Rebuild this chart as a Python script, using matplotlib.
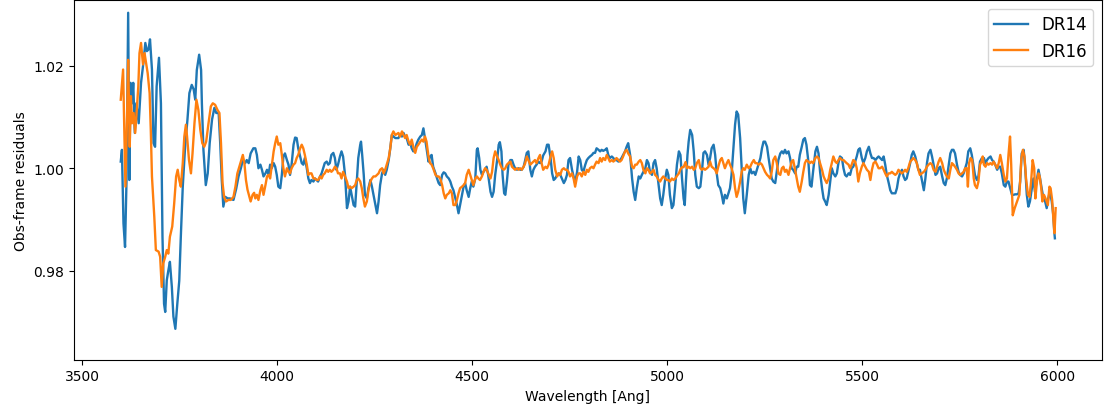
from matplotlib import pyplot as plt

# DR14 residuals (wavelength in Ang, obs-frame residual)
wave_dr14 = [3599, 3602, 3606, 3610, 3614, 3618, 3621, 3624, 3628, 3631, 3635, 3639, 3645, 3651, 3657, 3662,
             3666, 3670, 3674, 3679, 3683, 3687, 3691, 3697, 3702, 3706, 3710, 3713, 3717, 3721, 3725, 3730,
             3734, 3739, 3744, 3749, 3753, 3758, 3764, 3770, 3775, 3781, 3786, 3790, 3794, 3800, 3805, 3807,
             3811, 3817, 3822, 3827, 3833, 3839, 3844, 3850, 3854, 3858, 3862, 3867, 3873, 3879, 3888, 3895,
             3901, 3907, 3912, 3918, 3922, 3927, 3932, 3939, 3944, 3948, 3952, 3957, 3961, 3965, 3970, 3974,
             3978, 3982, 3986, 3991, 3995, 3999, 4003, 4008, 4012, 4016, 4020, 4025, 4029, 4033, 4037, 4042,
             4046, 4050, 4054, 4059, 4063, 4067, 4071, 4076, 4080, 4084, 4088, 4093, 4097, 4101, 4105, 4110,
             4114, 4118, 4122, 4127, 4131, 4135, 4139, 4144, 4148, 4152, 4156, 4161, 4165, 4169, 4174, 4179,
             4183, 4187, 4191, 4196, 4200, 4204, 4208, 4213, 4215, 4218, 4222, 4225, 4230, 4234, 4239, 4243,
             4247, 4252, 4256, 4260, 4264, 4269, 4273, 4277, 4281, 4286, 4290, 4294, 4298, 4303, 4311, 4315,
             4320, 4324, 4328, 4332, 4337, 4341, 4345, 4349, 4354, 4358, 4362, 4367, 4371, 4375, 4379, 4383,
             4388, 4392, 4396, 4400, 4406, 4410, 4414, 4418, 4423, 4427, 4431, 4435, 4440, 4444, 4448, 4452,
             4457, 4461, 4465, 4469, 4474, 4478, 4482, 4486, 4491, 4495, 4499, 4503, 4508, 4512, 4514, 4518,
             4521, 4525, 4529, 4533, 4537, 4541, 4547, 4551, 4555, 4559, 4564, 4568, 4571, 4575, 4578, 4582,
             4585, 4589, 4593, 4598, 4602, 4606, 4610, 4615, 4619, 4623, 4627, 4632, 4636, 4640, 4644, 4649,
             4653, 4657, 4661, 4665, 4670, 4674, 4678, 4682, 4688, 4692, 4696, 4701, 4705, 4709, 4713, 4718,
             4722, 4726, 4730, 4735, 4739, 4743, 4747, 4751, 4756, 4760, 4764, 4769, 4773, 4777, 4781, 4785,
             4790, 4794, 4798, 4802, 4807, 4811, 4815, 4819, 4824, 4828, 4832, 4836, 4841, 4845, 4849, 4853,
             4858, 4862, 4866, 4870, 4875, 4879, 4883, 4887, 4892, 4896, 4900, 4905, 4910, 4914, 4918, 4922,
             4927, 4931, 4935, 4939, 4944, 4948, 4952, 4956, 4961, 4965, 4969, 4973, 4978, 4982, 4986, 4990,
             4995, 4999, 5003, 5007, 5012, 5016, 5020, 5025, 5030, 5034, 5038, 5042, 5045, 5048, 5052, 5055,
             5059, 5064, 5068, 5072, 5076, 5081, 5085, 5089, 5093, 5097, 5102, 5106, 5110, 5114, 5119, 5123,
             5127, 5131, 5136, 5140, 5144, 5148, 5153, 5157, 5161, 5165, 5170, 5174, 5178, 5182, 5187, 5191,
             5195, 5199, 5204, 5209, 5213, 5217, 5222, 5226, 5230, 5234, 5239, 5243, 5247, 5251, 5256, 5260,
             5264, 5268, 5272, 5277, 5281, 5285, 5290, 5294, 5298, 5302, 5306, 5311, 5315, 5319, 5323, 5328,
             5332, 5336, 5340, 5345, 5349, 5353, 5357, 5362, 5366, 5370, 5374, 5380, 5384, 5388, 5392, 5397,
             5401, 5405, 5409, 5414, 5418, 5422, 5426, 5431, 5435, 5439, 5443, 5448, 5452, 5456, 5460, 5465,
             5469, 5473, 5477, 5482, 5486, 5490, 5494, 5499, 5503, 5508, 5512, 5517, 5521, 5525, 5529, 5534,
             5538, 5542, 5546, 5551, 5555, 5559, 5563, 5568, 5572, 5576, 5580, 5585, 5589, 5593, 5597, 5602,
             5606, 5610, 5614, 5618, 5623, 5627, 5631, 5636, 5640, 5644, 5648, 5653, 5658, 5662, 5666, 5670,
             5675, 5679, 5683, 5688, 5692, 5696, 5700, 5705, 5709, 5713, 5717, 5722, 5726, 5730, 5734, 5738,
             5743, 5747, 5751, 5756, 5760, 5764, 5768, 5772, 5777, 5781, 5785, 5789, 5794, 5798, 5802, 5807,
             5812, 5816, 5820, 5824, 5829, 5833, 5837, 5841, 5846, 5850, 5854, 5858, 5863, 5867, 5871, 5875,
             5880, 5884, 5888, 5892, 5897, 5901, 5905, 5909, 5914, 5918, 5922, 5926, 5930, 5935, 5939, 5943,
             5947, 5952, 5956, 5960, 5964, 5969, 5973, 5977, 5981, 5986, 5990, 5992, 5994]
res_dr14 = [1.0013, 1.0036, 0.9892, 0.9846, 0.9984, 1.0304, 0.9977, 1.0167, 1.0127, 1.0167, 1.0069, 1.0127,
            1.0088, 1.0167, 1.0206, 1.0245, 1.0229, 1.0232, 1.0252, 1.0193, 1.0049, 1.0042, 1.0160, 1.0216,
            1.0127, 0.9866, 0.9735, 0.9719, 0.9781, 0.9800, 0.9817, 0.9768, 0.9710, 0.9686, 0.9735, 0.9780,
            0.9866, 0.9964, 1.0042, 1.0095, 1.0147, 1.0163, 1.0154, 1.0134, 1.0192, 1.0222, 1.0192, 1.0127,
            1.0036, 0.9967, 0.9990, 1.0049, 1.0095, 1.0118, 1.0108, 1.0108, 1.0049, 0.9977, 0.9925, 0.9944,
            0.9941, 0.9941, 0.9938, 0.9960, 0.9984, 1.0000, 1.0016, 1.0010, 1.0016, 1.0010, 1.0029, 1.0039,
            1.0039, 1.0026, 1.0000, 1.0007, 0.9997, 0.9984, 0.9990, 0.9997, 0.9987, 1.0007, 1.0000, 1.0010,
            1.0003, 0.9987, 0.9964, 0.9961, 0.9987, 1.0023, 1.0029, 1.0016, 1.0007, 0.9987, 1.0007, 1.0046,
            1.0060, 1.0059, 1.0039, 1.0023, 1.0010, 1.0007, 1.0020, 1.0000, 0.9980, 0.9971, 0.9977, 0.9974,
            0.9980, 0.9977, 0.9974, 0.9984, 0.9990, 1.0000, 1.0010, 1.0013, 1.0007, 1.0010, 1.0026, 1.0030,
            1.0020, 0.9997, 1.0007, 1.0023, 1.0033, 1.0023, 0.9987, 0.9922, 0.9935, 0.9964, 0.9948, 0.9928,
            0.9925, 0.9974, 1.0020, 1.0046, 1.0052, 1.0026, 0.9987, 0.9948, 0.9941, 0.9961, 0.9977, 0.9964,
            0.9948, 0.9928, 0.9912, 0.9935, 0.9967, 0.9990, 0.9997, 0.9987, 0.9997, 1.0016, 1.0039, 1.0065,
            1.0062, 1.0059, 1.0059, 1.0065, 1.0062, 1.0069, 1.0062, 1.0059, 1.0046, 1.0050, 1.0039, 1.0033,
            1.0039, 1.0049, 1.0056, 1.0062, 1.0065, 1.0078, 1.0059, 1.0039, 1.0013, 1.0023, 1.0026, 1.0003,
            0.9990, 0.9980, 0.9971, 0.9967, 0.9987, 0.9992, 0.9990, 0.9984, 0.9980, 0.9974, 0.9964, 0.9957,
            0.9941, 0.9928, 0.9912, 0.9928, 0.9948, 0.9964, 0.9971, 0.9957, 0.9944, 0.9961, 0.9974, 0.9964,
            0.9980, 1.0036, 1.0039, 1.0020, 0.9997, 0.9987, 0.9993, 0.9997, 1.0003, 0.9987, 0.9954, 0.9944,
            0.9954, 0.9987, 1.0016, 1.0046, 1.0051, 1.0033, 0.9987, 0.9951, 0.9948, 0.9974, 1.0007, 1.0016,
            1.0016, 1.0007, 1.0000, 0.9997, 1.0000, 0.9997, 0.9997, 1.0003, 1.0016, 1.0030, 1.0033, 0.9997,
            0.9984, 0.9997, 1.0003, 1.0007, 1.0013, 1.0010, 1.0013, 1.0025, 1.0033, 1.0046, 1.0046, 1.0020,
            0.9990, 0.9977, 0.9980, 0.9987, 0.9990, 0.9987, 0.9980, 0.9971, 0.9977, 0.9987, 1.0016, 1.0020,
            0.9997, 0.9984, 0.9971, 0.9993, 1.0023, 1.0016, 0.9997, 0.9993, 1.0007, 1.0016, 1.0020, 1.0023,
            1.0026, 1.0030, 1.0030, 1.0039, 1.0036, 1.0033, 1.0036, 1.0034, 1.0036, 1.0039, 1.0026, 1.0020,
            1.0023, 1.0020, 1.0016, 1.0016, 1.0013, 1.0016, 1.0020, 1.0026, 1.0033, 1.0042, 1.0049, 1.0026,
            0.9980, 0.9954, 0.9938, 0.9961, 0.9984, 0.9980, 0.9987, 0.9993, 1.0000, 1.0016, 1.0010, 0.9993,
            0.9987, 1.0010, 1.0016, 1.0000, 0.9967, 0.9941, 0.9928, 0.9948, 0.9980, 0.9997, 0.9987, 0.9948,
            0.9922, 0.9928, 0.9961, 1.0007, 1.0033, 1.0026, 0.9980, 0.9941, 0.9928, 0.9974, 1.0026, 1.0052,
            1.0075, 1.0065, 1.0033, 0.9987, 0.9964, 0.9961, 0.9964, 0.9993, 1.0030, 1.0033, 1.0026, 1.0007,
            1.0020, 1.0039, 1.0046, 1.0026, 0.9990, 0.9967, 0.9961, 0.9948, 0.9931, 0.9948, 0.9941, 0.9951,
            0.9961, 0.9987, 1.0042, 1.0085, 1.0111, 1.0105, 1.0059, 1.0000, 0.9941, 0.9912, 0.9948, 0.9987,
            1.0000, 0.9990, 0.9993, 0.9987, 0.9997, 1.0007, 1.0020, 1.0039, 1.0052, 1.0052, 1.0042, 1.0020,
            1.0000, 0.9980, 0.9974, 0.9971, 0.9993, 1.0016, 1.0029, 1.0033, 1.0029, 1.0036, 1.0029, 1.0033,
            1.0020, 1.0000, 0.9997, 0.9990, 1.0003, 1.0003, 1.0026, 1.0042, 1.0056, 1.0059, 1.0046, 1.0013,
            0.9967, 0.9964, 0.9993, 1.0033, 1.0042, 1.0029, 0.9993, 0.9961, 0.9941, 0.9935, 0.9928, 0.9948,
            0.9974, 1.0000, 0.9990, 0.9984, 0.9990, 1.0010, 1.0023, 1.0020, 1.0000, 0.9987, 0.9984, 0.9990,
            0.9987, 1.0000, 1.0003, 1.0013, 1.0023, 1.0036, 1.0039, 1.0020, 1.0010, 1.0020, 1.0033, 1.0042,
            1.0029, 1.0020, 1.0020, 1.0016, 1.0020, 1.0023, 1.0020, 1.0016, 1.0023, 1.0007, 0.9987, 0.9971,
            0.9957, 0.9951, 0.9951, 0.9951, 0.9961, 0.9980, 0.9990, 0.9997, 0.9984, 0.9977, 0.9980, 0.9993,
            1.0010, 1.0026, 1.0033, 1.0023, 1.0010, 0.9997, 0.9997, 0.9977, 0.9957, 0.9980, 1.0010, 1.0029,
            1.0036, 1.0023, 1.0007, 0.9987, 0.9990, 1.0000, 1.0003, 0.9984, 0.9971, 0.9967, 0.9980, 1.0007,
            1.0029, 1.0036, 1.0036, 1.0029, 1.0007, 0.9993, 0.9987, 0.9984, 0.9990, 1.0000, 1.0010, 1.0033,
            1.0039, 1.0026, 1.0007, 0.9987, 0.9977, 0.9984, 1.0013, 1.0020, 1.0020, 1.0010, 1.0016, 1.0020,
            1.0023, 1.0016, 1.0013, 1.0007, 0.9997, 1.0003, 1.0003, 0.9990, 0.9967, 0.9964, 0.9974, 0.9974,
            0.9960, 0.9948, 0.9948, 0.9949, 0.9949, 0.9951, 0.9974, 1.0029, 1.0036, 1.0000, 0.9948, 0.9925,
            0.9935, 0.9961, 0.9980, 0.9954, 0.9974, 0.9997, 0.9980, 0.9961, 0.9944, 0.9935, 0.9922, 0.9941,
            0.9954, 0.9935, 0.9908, 0.9880, 0.9863]

# DR16 residuals
wave_dr16 = [3599, 3605, 3608, 3611, 3615, 3618, 3622, 3625, 3628, 3632, 3636, 3639, 3644, 3647, 3651, 3656,
             3660, 3664, 3668, 3673, 3676, 3679, 3685, 3689, 3696, 3700, 3704, 3708, 3713, 3717, 3721, 3725,
             3731, 3736, 3741, 3745, 3749, 3753, 3758, 3762, 3766, 3769, 3774, 3779, 3783, 3788, 3793, 3798,
             3803, 3808, 3813, 3818, 3824, 3830, 3835, 3841, 3847, 3852, 3856, 3860, 3864, 3869, 3875, 3881,
             3888, 3893, 3898, 3903, 3907, 3912, 3916, 3920, 3924, 3929, 3932, 3937, 3941, 3944, 3948, 3952,
             3957, 3961, 3965, 3970, 3974, 3978, 3982, 3986, 3991, 3995, 3999, 4003, 4008, 4012, 4016, 4020,
             4025, 4029, 4033, 4037, 4042, 4046, 4050, 4054, 4059, 4063, 4067, 4071, 4076, 4080, 4084, 4088,
             4093, 4097, 4101, 4105, 4110, 4114, 4118, 4122, 4127, 4131, 4135, 4139, 4144, 4148, 4152, 4156,
             4161, 4165, 4169, 4174, 4179, 4183, 4187, 4191, 4196, 4200, 4204, 4208, 4213, 4217, 4221, 4225,
             4230, 4234, 4239, 4243, 4247, 4252, 4256, 4260, 4264, 4269, 4273, 4277, 4281, 4286, 4290, 4294,
             4298, 4303, 4311, 4315, 4320, 4324, 4328, 4332, 4337, 4341, 4345, 4349, 4354, 4358, 4362, 4367,
             4371, 4375, 4379, 4383, 4388, 4392, 4396, 4400, 4406, 4410, 4414, 4418, 4423, 4427, 4431, 4435,
             4440, 4444, 4448, 4452, 4457, 4461, 4465, 4469, 4474, 4478, 4482, 4486, 4491, 4495, 4499, 4503,
             4508, 4512, 4516, 4520, 4525, 4529, 4533, 4537, 4541, 4547, 4551, 4555, 4559, 4564, 4568, 4572,
             4576, 4581, 4585, 4589, 4593, 4598, 4602, 4606, 4610, 4615, 4619, 4623, 4627, 4632, 4636, 4640,
             4644, 4649, 4653, 4657, 4661, 4665, 4670, 4674, 4678, 4682, 4688, 4692, 4696, 4701, 4705, 4709,
             4713, 4718, 4722, 4726, 4730, 4735, 4739, 4743, 4747, 4751, 4756, 4760, 4764, 4769, 4773, 4777,
             4781, 4785, 4790, 4794, 4798, 4802, 4807, 4811, 4815, 4819, 4824, 4828, 4832, 4836, 4841, 4845,
             4849, 4853, 4858, 4862, 4866, 4870, 4875, 4879, 4883, 4887, 4892, 4896, 4900, 4905, 4910, 4914,
             4918, 4922, 4927, 4931, 4935, 4939, 4944, 4948, 4952, 4956, 4961, 4965, 4969, 4973, 4978, 4982,
             4986, 4990, 4995, 4999, 5003, 5007, 5012, 5016, 5021, 5025, 5030, 5034, 5038, 5042, 5047, 5051,
             5055, 5059, 5064, 5068, 5072, 5076, 5081, 5085, 5089, 5093, 5097, 5102, 5106, 5110, 5114, 5119,
             5123, 5127, 5131, 5136, 5140, 5144, 5148, 5153, 5157, 5161, 5165, 5170, 5174, 5178, 5182, 5187,
             5191, 5195, 5199, 5204, 5209, 5213, 5217, 5222, 5226, 5230, 5234, 5239, 5243, 5247, 5251, 5256,
             5260, 5264, 5268, 5272, 5277, 5281, 5285, 5290, 5294, 5298, 5302, 5306, 5311, 5315, 5319, 5323,
             5328, 5332, 5336, 5340, 5345, 5349, 5353, 5357, 5362, 5366, 5370, 5374, 5380, 5384, 5388, 5392,
             5397, 5401, 5405, 5409, 5414, 5418, 5422, 5426, 5431, 5435, 5439, 5443, 5448, 5452, 5456, 5460,
             5465, 5469, 5473, 5477, 5482, 5486, 5490, 5494, 5499, 5503, 5508, 5512, 5517, 5521, 5525, 5529,
             5534, 5538, 5542, 5546, 5551, 5555, 5559, 5563, 5568, 5572, 5576, 5580, 5585, 5589, 5593, 5597,
             5602, 5606, 5610, 5614, 5618, 5623, 5627, 5631, 5636, 5640, 5644, 5648, 5653, 5658, 5662, 5666,
             5670, 5675, 5679, 5683, 5688, 5692, 5696, 5700, 5705, 5709, 5713, 5717, 5722, 5726, 5730, 5734,
             5738, 5743, 5747, 5751, 5756, 5760, 5764, 5768, 5771, 5774, 5778, 5782, 5786, 5789, 5794, 5798,
             5802, 5806, 5809, 5812, 5816, 5820, 5824, 5829, 5833, 5837, 5841, 5846, 5850, 5854, 5858, 5863,
             5867, 5871, 5875, 5879, 5882, 5886, 5891, 5897, 5903, 5908, 5912, 5916, 5920, 5925, 5929, 5933,
             5937, 5941, 5944, 5948, 5952, 5955, 5959, 5962, 5966, 5970, 5976, 5980, 5983, 5987, 5990, 5993,
             5996]
res_dr16 = [1.0134, 1.0193, 1.0075, 0.9964, 1.0095, 1.0212, 1.0042, 1.0141, 1.0088, 1.0108, 1.0069, 1.0101,
            1.0160, 1.0225, 1.0245, 1.0203, 1.0225, 1.0206, 1.0186, 1.0147, 1.0075, 0.9984, 0.9905, 0.9840,
            0.9837, 0.9827, 0.9768, 0.9814, 0.9827, 0.9840, 0.9833, 0.9866, 0.9886, 0.9931, 0.9984, 0.9997,
            0.9977, 0.9964, 1.0010, 1.0062, 1.0085, 1.0062, 1.0016, 0.9990, 1.0029, 1.0088, 1.0134, 1.0114,
            1.0075, 1.0049, 1.0042, 1.0052, 1.0088, 1.0121, 1.0127, 1.0124, 1.0114, 1.0108, 1.0049, 0.9971,
            0.9944, 0.9935, 0.9938, 0.9938, 0.9944, 0.9964, 0.9990, 1.0003, 1.0013, 1.0026, 1.0010, 0.9977,
            0.9958, 0.9944, 0.9935, 0.9948, 0.9952, 0.9941, 0.9948, 0.9938, 0.9957, 0.9967, 0.9948, 0.9967,
            0.9984, 0.9987, 0.9980, 1.0003, 1.0033, 1.0049, 1.0062, 1.0046, 1.0049, 1.0026, 1.0000, 0.9984,
            1.0000, 0.9993, 0.9990, 1.0000, 1.0007, 1.0010, 1.0020, 1.0026, 1.0039, 1.0046, 1.0039, 1.0026,
            1.0007, 0.9987, 0.9990, 0.9990, 0.9980, 0.9980, 0.9977, 0.9977, 0.9984, 0.9980, 0.9987, 0.9990,
            0.9997, 0.9993, 0.9997, 0.9993, 0.9997, 1.0003, 1.0000, 0.9990, 0.9990, 0.9980, 0.9993, 0.9984,
            0.9974, 0.9961, 0.9964, 0.9961, 0.9964, 0.9967, 0.9977, 0.9980, 0.9974, 0.9961, 0.9941, 0.9925,
            0.9935, 0.9957, 0.9974, 0.9980, 0.9984, 0.9984, 0.9987, 0.9990, 0.9997, 1.0000, 0.9990, 0.9997,
            1.0007, 1.0020, 1.0039, 1.0065, 1.0072, 1.0065, 1.0069, 1.0062, 1.0072, 1.0065, 1.0059, 1.0065,
            1.0052, 1.0046, 1.0056, 1.0042, 1.0030, 1.0042, 1.0046, 1.0052, 1.0056, 1.0052, 1.0062, 1.0052,
            1.0023, 1.0010, 1.0007, 1.0000, 0.9987, 0.9984, 0.9984, 0.9980, 0.9967, 0.9951, 0.9941, 0.9948,
            0.9951, 0.9957, 0.9951, 0.9928, 0.9928, 0.9938, 0.9951, 0.9961, 0.9964, 0.9967, 0.9971, 0.9987,
            0.9997, 0.9987, 0.9977, 0.9967, 0.9980, 0.9984, 0.9980, 0.9977, 0.9984, 0.9993, 1.0000, 0.9997,
            0.9990, 0.9980, 0.9993, 1.0020, 1.0033, 1.0023, 1.0016, 1.0007, 1.0000, 0.9997, 1.0000, 1.0007,
            1.0010, 1.0013, 1.0003, 1.0000, 0.9997, 1.0000, 0.9997, 1.0000, 0.9997, 1.0003, 1.0010, 1.0023,
            1.0016, 1.0007, 1.0010, 1.0013, 1.0016, 1.0010, 1.0020, 1.0026, 1.0010, 0.9997, 1.0003, 1.0000,
            1.0007, 1.0023, 1.0033, 1.0020, 0.9997, 0.9984, 0.9990, 0.9987, 0.9997, 1.0000, 0.9997, 0.9997,
            0.9993, 0.9984, 0.9990, 0.9980, 0.9964, 0.9984, 0.9990, 0.9990, 0.9984, 0.9993, 0.9987, 0.9997,
            0.9993, 1.0000, 1.0003, 1.0000, 1.0007, 1.0013, 1.0010, 1.0020, 1.0013, 1.0020, 1.0016, 1.0026,
            1.0020, 1.0013, 1.0016, 1.0013, 1.0016, 1.0020, 1.0016, 1.0013, 1.0016, 1.0023, 1.0033, 1.0036,
            1.0029, 1.0023, 1.0003, 1.0000, 1.0007, 1.0007, 1.0013, 1.0016, 1.0010, 0.9997, 0.9990, 1.0000,
            0.9997, 0.9990, 0.9993, 0.9997, 0.9987, 0.9984, 0.9977, 0.9974, 0.9980, 0.9984, 0.9980, 0.9977,
            0.9977, 0.9974, 0.9980, 0.9977, 0.9980, 0.9985, 0.9990, 0.9998, 1.0002, 1.0002, 1.0012, 1.0000,
            1.0003, 1.0000, 1.0003, 0.9997, 1.0000, 1.0010, 1.0016, 1.0000, 0.9997, 1.0000, 0.9997, 1.0000,
            1.0003, 1.0013, 1.0003, 1.0000, 0.9997, 0.9990, 1.0003, 1.0016, 1.0020, 1.0010, 1.0000, 1.0010,
            1.0016, 1.0007, 1.0000, 0.9987, 0.9961, 0.9944, 0.9954, 0.9974, 0.9993, 1.0000, 0.9997, 1.0007,
            1.0000, 1.0003, 1.0010, 1.0016, 1.0010, 1.0010, 1.0007, 1.0010, 1.0007, 1.0000, 0.9993, 0.9987,
            0.9984, 0.9980, 0.9993, 1.0016, 1.0023, 1.0010, 0.9990, 0.9987, 1.0000, 1.0003, 0.9993, 0.9997,
            0.9987, 1.0000, 1.0013, 1.0016, 0.9997, 0.9980, 0.9964, 0.9954, 0.9974, 0.9993, 1.0010, 1.0016,
            1.0013, 1.0010, 1.0013, 1.0010, 1.0020, 1.0023, 1.0020, 1.0010, 0.9997, 0.9984, 0.9977, 0.9971,
            0.9980, 0.9997, 1.0010, 1.0023, 1.0013, 1.0010, 1.0016, 1.0020, 1.0016, 1.0016, 1.0013, 1.0010,
            1.0007, 1.0000, 1.0007, 1.0016, 1.0013, 1.0000, 0.9974, 0.9990, 1.0003, 1.0010, 1.0003, 0.9997,
            0.9993, 0.9977, 0.9997, 1.0010, 1.0013, 1.0007, 1.0000, 1.0000, 1.0003, 0.9997, 0.9990, 0.9984,
            0.9990, 0.9990, 0.9993, 0.9990, 0.9987, 0.9990, 0.9997, 0.9993, 0.9990, 0.9993, 0.9997, 0.9993,
            1.0000, 1.0013, 1.0016, 1.0020, 1.0016, 1.0010, 0.9997, 0.9987, 0.9990, 0.9993, 0.9997, 1.0003,
            1.0007, 1.0010, 1.0007, 0.9997, 0.9993, 1.0003, 1.0013, 1.0020, 1.0010, 0.9997, 0.9990, 0.9984,
            0.9980, 0.9997, 1.0010, 1.0007, 1.0003, 0.9997, 0.9990, 0.9987, 0.9990, 0.9993, 1.0000, 1.0000,
            0.9964, 1.0010, 1.0020, 1.0016, 0.9980, 0.9967, 0.9961, 0.9974, 1.0007, 1.0013, 1.0023, 1.0007,
            1.0003, 1.0010, 1.0007, 1.0010, 1.0007, 1.0013, 1.0007, 1.0000, 1.0010, 1.0026, 1.0010, 0.9987,
            0.9974, 0.9980, 1.0026, 1.0062, 1.0007, 0.9908, 0.9922, 0.9935, 0.9948, 1.0020, 1.0036, 1.0023,
            0.9980, 0.9948, 0.9944, 0.9974, 1.0016, 1.0000, 0.9941, 0.9974, 0.9990, 0.9984, 0.9961, 0.9935,
            0.9948, 0.9941, 0.9928, 0.9964, 0.9961, 0.9938, 0.9902, 0.9873, 0.9922]

fig = plt.figure(figsize=(11.07, 4.14), dpi=100)
ax = fig.add_subplot(111)
fig.subplots_adjust(left=0.0668, right=0.9952, top=0.9964, bottom=0.1292)

ax.plot(wave_dr14, res_dr14, color='#1f77b4', lw=1.7, label='DR14')
ax.plot(wave_dr16, res_dr16, color='#ff7f0e', lw=1.7, label='DR16')

ax.set_xlim(3479, 6114)
ax.set_ylim(0.9626, 1.0328)
ax.set_xticks([3500, 4000, 4500, 5000, 5500, 6000])
ax.set_yticks([0.98, 1.00, 1.02])
ax.set_yticklabels(['0.98', '1.00', '1.02'])
ax.set_xlabel('Wavelength [Ang]')
ax.set_ylabel('Obs-frame residuals')
ax.legend(loc='upper right', fontsize=12)

plt.savefig('out.png', dpi=100)
